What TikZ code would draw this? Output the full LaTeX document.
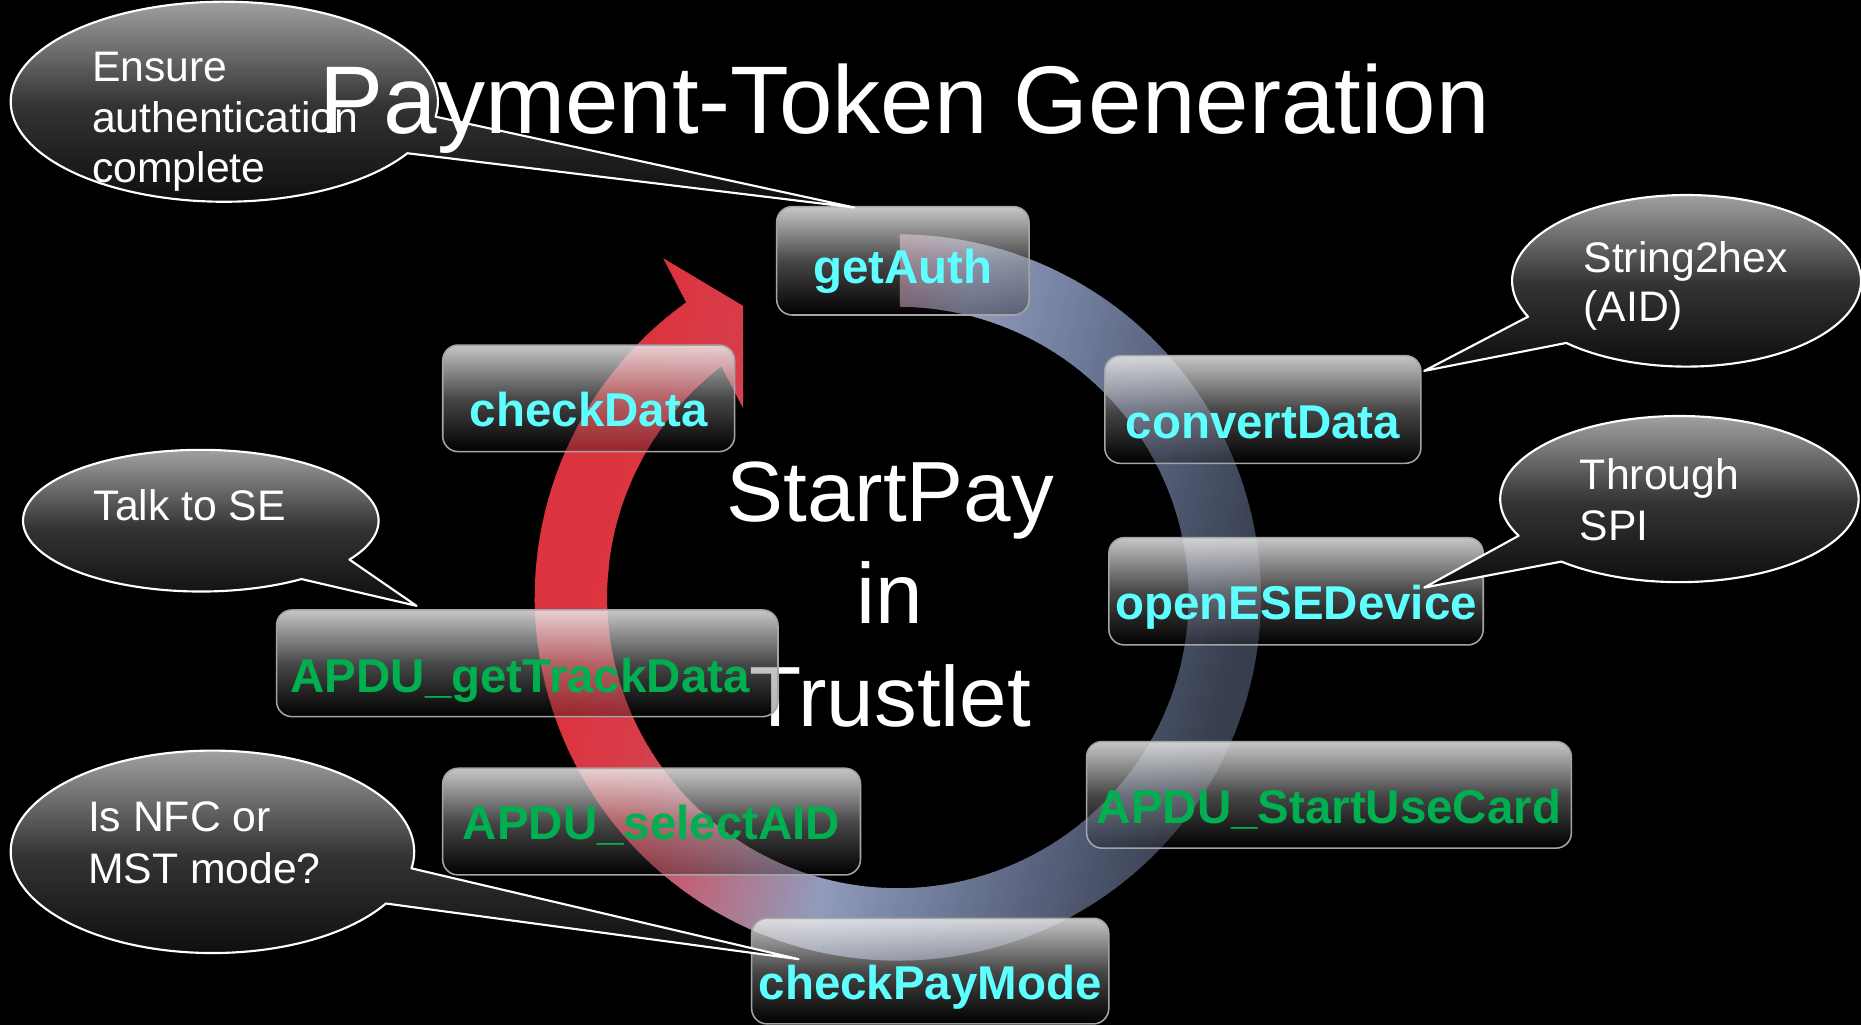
\documentclass[tikz,border=0pt]{standalone}
\usepackage{fontspec}
\setmainfont{Liberation Sans}
\usetikzlibrary{calc,fadings}

% colours of the circular arrow, from the red head round to the dark tail side
\definecolor{ringA}{RGB}{220,52,62}
\definecolor{ringB}{RGB}{214,62,74}
\definecolor{ringC}{RGB}{195,95,115}
\definecolor{ringD}{RGB}{168,128,152}
\definecolor{ringE}{RGB}{145,155,188}
\definecolor{ringF}{RGB}{118,130,162}
\definecolor{ringG}{RGB}{88,98,124}
\definecolor{ringH}{RGB}{55,62,78}
\definecolor{fncyan}{RGB}{95,255,255}
\definecolor{apdugreen}{RGB}{0,176,80}
\definecolor{boxedge}{RGB}{165,165,165}
\definecolor{bubbletop}{RGB}{160,160,160}
\definecolor{bubblemid}{RGB}{52,52,52}
\definecolor{bubblebot}{RGB}{12,12,12}

% glossy highlight of the step boxes: opaque white at the top, clear at the bottom
\tikzfading[name=boxgloss, top color=transparent!22, bottom color=transparent!100, middle color=transparent!72]

% speech bubble: centre x, centre y, radius x, radius y, arc start, arc end, pointer tip
\newcommand{\speechbubble}[7]{%
  \path[bubble] (#7) -- plot[domain=#5:#6, samples=140, variable=\t]
    ({#1+#3*cos(\t)}, {#2+#4*sin(\t)}) -- cycle;}

\begin{document}
\begin{tikzpicture}[x=1pt, y=-1pt,
  bubble/.style={draw=white, line width=1.8pt, line join=round,
    top color=bubbletop, bottom color=bubblebot, middle color=bubblemid},
  bubbletext/.style={inner sep=0pt, anchor=base west, text=white,
    font=\fontsize{36}{43}\selectfont},
  gbox/.style={rectangle, rounded corners=13pt, inner sep=0pt,
    draw=boxedge, line width=1.3pt,
    preaction={fill=black, fill opacity=0.3},
    preaction={fill=white, path fading=boxgloss}},
  boxlabel/.style={inner sep=0pt, anchor=base, font=\bfseries\fontsize{40}{48}\selectfont},
  fnlabel/.style={boxlabel, text=fncyan},
  apdulabel/.style={boxlabel, text=apdugreen},
  centertext/.style={inner sep=0pt, anchor=base, text=white, font=\fontsize{72}{86}\selectfont},
]
\useasboundingbox (0,0) rectangle (1568,864);
\fill[black] (0,0) rectangle (1568,864);

% centre caption
\node[centertext] (cap1) at (750,439.5) {StartPay};
\node[centertext] (cap2) at (750,525) {in};
\node[centertext] (cap3) at (750,611.7) {Trustlet};

% circular arrow with its colour sweep
\begin{scope}
  \clip plot[domain=-89.7:234.35, samples=160, variable=\a]
      ({756.5+306*cos(\a)}, {503.4+306*sin(\a)})
    -- (558.8,217.6) -- (626.2,257.8) -- (626.2,344)
    -- plot[domain=232.64:-89.6, samples=160, variable=\a]
      ({756.5+245*cos(\a)}, {503.4+245*sin(\a)}) -- cycle;
  \begin{scope}[shift={(756.5,503.4)}, rotate=-14.04]
    \foreach \sa/\sb/\ca/\cb in {-360/-254.5/ringA/ringA, -254.5/-176.9/ringA/ringB,
        -176.9/-118.7/ringB/ringC, -118.7/-60.5/ringC/ringD, -60.5/-2.3/ringD/ringE,
        -2.3/75.3/ringE/ringF, 75.3/172.3/ringF/ringG, 172.3/288.7/ringG/ringH,
        288.7/360/ringH/ringH}{
      \foreach \k in {0,...,19}{
        \pgfmathsetmacro{\xl}{(\sa)+((\sb)-(\sa))*\k/20}
        \pgfmathsetmacro{\xr}{(\sa)+((\sb)-(\sa))*(\k+1)/20+0.8}
        \pgfmathsetmacro{\pc}{5*\k+2.5}
        \colorlet{stripcol}{\cb!\pc!\ca}
        \fill[stripcol] (\xl pt,-360pt) rectangle (\xr pt,360pt);
      }
    }
  \end{scope}
\end{scope}

% step boxes
\node[gbox, minimum width=212.6pt, minimum height=91.3pt] (getAuth) at (760.7,219.75) {};
\node[gbox, minimum width=266.3pt, minimum height=90.7pt] (convertData) at (1064,345) {};
\node[gbox, minimum width=245.9pt, minimum height=89.8pt] (checkData) at (496,335.6) {};
\node[gbox, minimum width=315.4pt, minimum height=90.4pt] (openESE) at (1092,498.2) {};
\node[gbox, minimum width=422.5pt, minimum height=89.9pt] (getTrack) at (444.25,558.85) {};
\node[gbox, minimum width=408.5pt, minimum height=89.8pt] (startUse) at (1119.75,669.7) {};
\node[gbox, minimum width=352pt, minimum height=89.9pt] (selectAID) at (549,692.25) {};
\node[gbox, minimum width=300.9pt, minimum height=89pt] (checkPay) at (783.75,818.2) {};

\node[fnlabel] (getAuth-t) at ($(getAuth.center)+(0,19.5)$) {getAuth};
\node[fnlabel] (convertData-t) at ($(convertData.center)+(0,24.3)$) {convertData};
\node[fnlabel] (checkData-t) at ($(checkData.center)+(0,23.9)$) {checkData};
\node[fnlabel] (openESE-t) at ($(openESE.center)+(0,24.1)$) {openESEDevice};
\node[apdulabel] (getTrack-t) at ($(getTrack.center)+(-6,24.7)$) {APDU\_getTrackData};
\node[apdulabel] (startUse-t) at ($(startUse.center)+(0,23.9)$) {APDU\_StartUseCard};
\node[apdulabel] (selectAID-t) at ($(selectAID.center)+(0,15)$) {APDU\_selectAID};
\node[fnlabel] (checkPay-t) at ($(checkPay.center)+(0,24.3)$) {checkPayMode};

% pointer tips of the speech bubbles
\coordinate (tip1) at ($(getAuth.north west)+(66,1.4)$);
\coordinate (tip2) at ($(convertData.north east)+(2.2,13.5)$);
\coordinate (tip3) at ($(openESE.north east)+(-50.3,42.7)$);
\coordinate (tip4) at ($(getTrack.north west)+(118.6,-2.8)$);
\coordinate (tip5) at ($(checkPay.north west)+(40.2,35.1)$);

% speech bubbles
\speechbubble{189}{85.7}{180}{84.3}{31}{368.6}{tip1}
\node[bubbletext] (b1a) at (77.5,68.8) {Ensure};
\node[bubbletext] (b1b) at (77.5,112) {authentication};
\node[bubbletext] (b1c) at (77.5,154) {complete};

\speechbubble{1421}{236.6}{147}{72.3}{155.3}{493.6}{tip2}
\node[bubbletext] (b2a) at (1334,229.7) {String2hex};
\node[bubbletext] (b2b) at (1334,271) {(AID)};

\speechbubble{1415}{420.5}{151}{70}{153.8}{491.2}{tip3}
\node[bubbletext] (b3a) at (1331,412.8) {Through};
\node[bubbletext] (b3b) at (1331,455.5) {SPI};

\speechbubble{169.2}{438.7}{149.8}{59.7}{55.5}{393.3}{tip4}
\node[bubbletext] (b4a) at (78.7,438.7) {Talk to SE};

\speechbubble{179}{717.7}{170}{85.3}{30.7}{369.4}{tip5}
\node[bubbletext] (b5a) at (74,700.7) {Is NFC or};
\node[bubbletext] (b5b) at (74,744.3) {MST mode?};

% title
\node[inner sep=0pt, anchor=base west, text=white, font=\fontsize{81}{97}\selectfont]
  (title) at (269,112.3) {Payment-Token Generation};
\end{tikzpicture}
\end{document}
